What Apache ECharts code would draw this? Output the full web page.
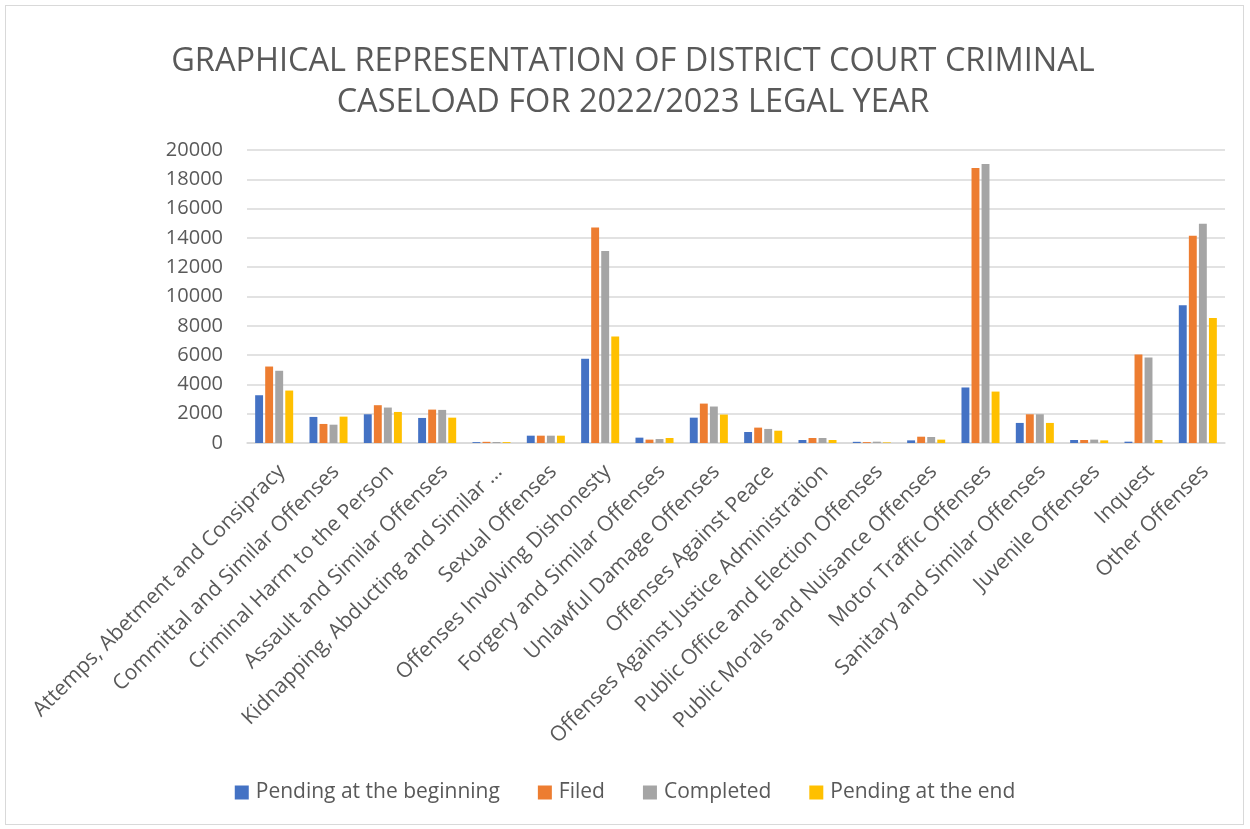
<!DOCTYPE html>
<html><head><meta charset="utf-8">
<script src="https://cdn.jsdelivr.net/npm/echarts@6/dist/echarts.min.js"></script>
<style>
html,body{margin:0;padding:0;background:#fff;}
#frame{position:absolute;left:5px;top:5px;width:1239px;height:820px;border:1px solid #d9d9d9;box-sizing:border-box;}
#chart{position:absolute;left:0;top:0;width:1250px;height:829px;}
</style></head>
<body>
<div id="frame"></div>
<div id="chart"></div>
<script>
const categories = [
  "Attemps, Abetment and Consipracy",
  "Committal and Similar Offenses",
  "Criminal Harm to the Person",
  "Assault and Similar Offenses",
  "Kidnapping, Abducting and Similar …",
  "Sexual Offenses",
  "Offenses Involving Dishonesty",
  "Forgery and Similar Offenses",
  "Unlawful Damage Offenses",
  "Offenses Against Peace",
  "Offenses Against Justice Administration",
  "Public Office and Election Offenses",
  "Public Morals and Nuisance Offenses",
  "Motor Traffic Offenses",
  "Sanitary and Similar Offenses",
  "Juvenile Offenses",
  "Inquest",
  "Other Offenses"
];
const pendingBeginning = [3260, 1780, 1960, 1710, 60, 500, 5750, 365, 1730, 750, 205, 80, 180, 3790, 1370, 205, 90, 9400];
const filed            = [5220, 1300, 2580, 2280, 80, 500, 14710, 230, 2690, 1050, 340, 60, 430, 18770, 1960, 205, 6040, 14140];
const completed        = [4930, 1250, 2420, 2260, 70, 500, 13110, 270, 2490, 960, 340, 90, 410, 19040, 1960, 230, 5840, 14960];
const pendingEnd       = [3580, 1800, 2120, 1730, 60, 500, 7270, 340, 1940, 840, 205, 40, 230, 3510, 1370, 180, 205, 8530];
const seriesNames = ["Pending at the beginning", "Filed", "Completed", "Pending at the end"];
const colors = ["#4472C4", "#ED7D31", "#A5A5A5", "#FFC000"];
const yTicks = {min: 0, max: 20000, interval: 2000};

const FONT = "Open Sans";
const chart = echarts.init(document.getElementById('chart'));
const dataSets = [pendingBeginning, filed, completed, pendingEnd];
chart.setOption({
  animation: false,
  color: colors,
  title: {
    text: "GRAPHICAL REPRESENTATION OF DISTRICT COURT CRIMINAL\nCASELOAD FOR 2022/2023 LEGAL YEAR",
    left: 628, textAlign: 'center', top: 36,
    textStyle: {fontFamily: FONT, fontSize: 32.5, fontWeight: 'normal', color: '#595959', lineHeight: 41}
  },
  legend: {
    bottom: 21, left: 'center',
    itemWidth: 14, itemHeight: 14, itemGap: 38,
    icon: 'rect',
    textStyle: {fontFamily: FONT, fontSize: 21, color: '#595959', padding: [0, 0, 0, 2]},
    data: seriesNames
  },
  grid: {left: 247, right: 25, top: 150, bottom: 386, containLabel: false},
  xAxis: {
    type: 'category', data: categories,
    axisLine: {lineStyle: {color: '#d9d9d9', width: 1.5}},
    axisTick: {show: false},
    axisLabel: {rotate: 45, interval: 0, fontFamily: FONT, fontSize: 21, color: '#595959', margin: 18,
      align: 'right', verticalAlign: 'top'}
  },
  yAxis: {
    type: 'value', min: yTicks.min, max: yTicks.max, interval: yTicks.interval,
    axisLine: {show: false}, axisTick: {show: false},
    axisLabel: {fontFamily: FONT, fontSize: 20, color: '#595959', margin: 24, formatter: v => String(v)},
    splitLine: {lineStyle: {color: '#d9d9d9', width: 1.5}}
  },
  series: seriesNames.map((n, i) => ({
    name: n, type: 'bar', data: dataSets[i],
    barGap: '27%', barCategoryGap: '30%',
    itemStyle: {color: colors[i]}
  }))
});
</script>
</body></html>
